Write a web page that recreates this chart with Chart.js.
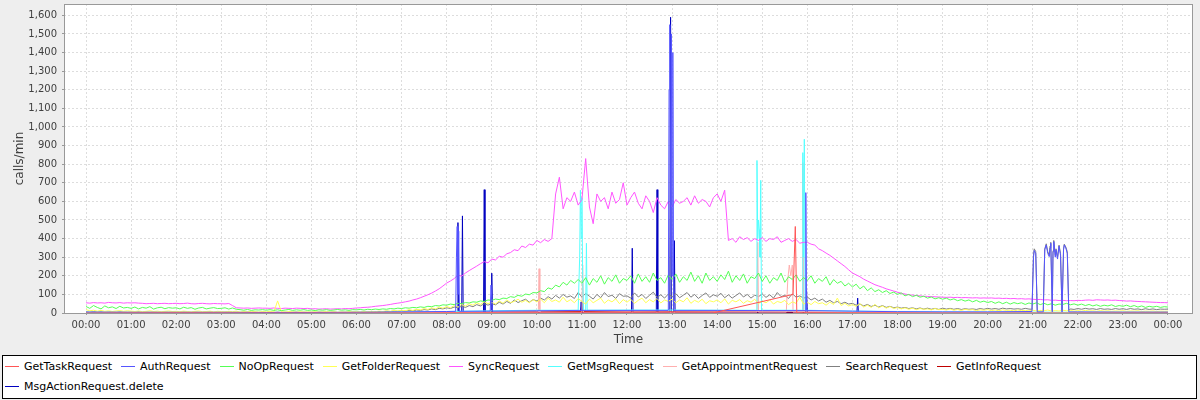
<!DOCTYPE html>
<html><head><meta charset="utf-8">
<script src="https://cdn.jsdelivr.net/npm/chart.js@4/dist/chart.umd.min.js"></script>
<style>
html,body{margin:0;padding:0;background:#eeeeee;width:1200px;height:400px;overflow:hidden;}
#wrap{position:absolute;left:0;top:0;width:1200px;height:352px;}
#legend{position:absolute;left:2px;top:355px;width:1195px;height:44px;box-sizing:border-box;border:1px solid #000;background:#fff;
 font-family:"DejaVu Sans",sans-serif;font-size:11px;color:#000;display:flex;flex-wrap:wrap;align-content:flex-start;padding-left:2px;}
.it{display:flex;align-items:center;height:20px;margin-right:9px;white-space:nowrap;}
.it i{display:inline-block;width:14px;height:1px;margin-right:5px;}
</style></head>
<body>
<div id="wrap"><canvas id="c" width="1200" height="352"></canvas></div>
<div id="legend"></div>
<script>
const seriesNames = ['GetTaskRequest','AuthRequest','NoOpRequest','GetFolderRequest','SyncRequest','GetMsgRequest','GetAppointmentRequest','SearchRequest','GetInfoRequest','MsgActionRequest.delete'];
const seriesColors = ['#ff5555','#5555ff','#55ff55','#ffff55','#ff55ff','#55ffff','#ffafaf','#808080','#c00000','#0000c0'];
const hourTicks = [0,60,120,180,240,300,360,420,480,540,600,660,720,780,840,900,960,1020,1080,1140,1200,1260,1320,1380,1440];
const hourLabels = ['00:00','01:00','02:00','03:00','04:00','05:00','06:00','07:00','08:00','09:00','10:00','11:00','12:00','13:00','14:00','15:00','16:00','17:00','18:00','19:00','20:00','21:00','22:00','23:00','00:00'];
const yTicks = [0,100,200,300,400,500,600,700,800,900,1000,1100,1200,1300,1400,1500,1600];
const stepMinutes = 5;

// values every 5 minutes, one row per hour
const syncValues = [
55,53,56,54,55,53,57,55,54,56,53,55,
54,55,53,52,50,51,52,50,51,52,50,51,
52,50,51,53,50,49,51,52,50,49,51,50,
50,49,51,40,28,27,26,27,25,26,27,26,
26,25,27,25,24,26,25,24,26,25,24,25,
22,23,21,22,23,21,22,23,22,24,23,25,
27,28,30,31,33,36,38,40,43,46,50,53,
56,60,64,70,75,82,90,98,107,118,130,145,
161,172,185,204,198,215,228,240,252,265,276,270,
290,285,305,300,318,325,340,335,360,352,370,365,
390,378,395,385,400,640,730,560,620,600,650,580,
610,830,570,480,640,600,620,560,650,590,610,700,
580,620,650,590,560,630,600,540,620,580,560,600,
570,610,590,600,620,580,630,590,610,600,570,620,
640,600,660,390,400,380,410,395,405,385,400,390,
405,385,400,395,410,380,390,400,385,395,375,380,
380,370,365,345,335,322,310,295,280,265,250,232,
215,205,195,182,172,162,152,145,138,130,124,118,
112,106,102,98,96,94,92,90,89,88,87,86,
85,84,85,83,84,82,83,82,81,82,80,81,
80,81,79,80,78,79,77,78,76,77,75,76,
74,72,73,70,71,68,69,67,68,66,67,66,
68,67,69,70,68,71,70,69,70,68,69,67,
66,64,65,63,62,61,60,59,58,57,56,56,
55];
const noOpValues = [
35,25,40,30,22,38,28,33,24,36,27,30,
25,32,22,30,26,34,21,28,31,23,29,26,
28,22,31,25,29,20,27,30,22,26,29,24,
25,28,21,27,20,18,15,19,14,17,16,18,
15,18,14,17,13,16,19,14,17,15,18,14,
16,13,17,15,18,14,16,19,15,17,14,18,
17,19,16,20,18,21,19,22,20,24,22,26,
24,28,26,30,28,33,30,36,34,40,38,44,
42,48,45,52,50,56,54,60,58,65,62,70,
68,75,72,80,78,88,84,95,90,102,98,110,
108,120,115,135,128,150,140,165,150,175,160,180,
160,190,150,185,165,200,155,190,170,205,160,185,
175,200,160,210,170,195,165,215,175,190,160,205,
180,210,165,195,175,220,170,200,160,215,175,195,
170,205,180,225,165,200,175,210,160,195,185,215,
170,200,160,190,175,215,165,195,180,205,170,190,
175,200,160,185,170,195,150,180,160,170,145,160,
140,155,130,145,120,135,115,125,110,120,105,112,
100,108,92,100,88,95,85,90,80,86,76,82,
74,80,70,76,66,72,64,70,60,68,58,64,
56,62,52,60,50,58,48,56,50,55,46,54,
48,55,45,52,44,50,42,48,46,52,44,49,
42,48,40,46,38,44,36,42,38,44,35,40,
36,42,34,40,32,38,30,36,32,36,30,34,
32];
const getFolderValues = [
18,12,15,10,14,9,12,8,11,13,9,12,
10,8,11,7,9,12,8,10,7,9,11,8,
9,7,10,8,6,9,11,7,8,10,6,9,
8,6,9,7,10,5,8,6,9,7,5,8,
6,9,5,65,7,5,8,6,4,7,5,6,
5,7,4,6,8,5,7,4,6,5,8,6,
7,5,8,6,9,7,10,8,12,9,14,11,
15,12,18,14,20,17,24,19,28,22,32,26,
35,28,40,32,45,38,50,42,55,46,60,50,
58,48,65,52,70,56,62,74,58,68,55,72,
60,75,55,80,62,70,58,85,60,72,55,78,
62,48,75,55,68,80,52,70,60,76,50,72,
58,74,52,68,80,55,72,60,78,54,70,62,
75,55,70,60,82,52,68,58,74,50,66,60,
70,55,76,48,68,60,72,52,66,58,74,50,
64,55,70,48,62,56,68,45,60,52,85,48,
58,45,62,50,55,42,58,46,80,40,52,38,
45,36,50,32,42,30,46,28,38,26,35,24,
30,22,28,20,26,18,24,20,22,17,24,18,
20,16,22,15,19,14,20,16,18,13,17,15,
18,13,16,12,17,14,15,11,16,13,14,12,
15,11,14,12,16,10,13,11,15,12,14,10,
13,10,14,11,12,9,13,10,12,9,11,10,
12,9,11,10,12,8,10,9,11,8,10,9,
10];
const searchValues = [
6,4,7,5,6,4,5,7,4,6,5,4,
5,4,6,3,5,4,6,4,3,5,4,5,
4,3,5,4,3,5,4,3,4,5,3,4,
3,4,5,3,4,3,4,5,3,4,3,4,
3,4,3,5,3,4,3,4,5,3,4,3,
4,3,5,4,3,4,5,3,4,4,3,5,
5,4,6,5,7,6,8,7,9,8,10,9,
12,10,14,12,16,14,18,16,22,18,25,22,
28,24,32,28,36,30,40,34,45,38,50,42,
50,44,58,48,62,52,70,56,66,74,58,72,
65,80,70,88,75,95,80,100,85,92,78,110,
85,105,90,75,100,82,110,88,96,78,104,90,
92,80,108,86,100,78,95,112,84,98,80,102,
88,104,82,96,110,85,100,78,94,108,84,98,
90,106,82,98,80,94,108,86,100,80,96,88,
102,84,98,80,110,88,95,78,104,85,92,80,
86,70,80,65,75,58,68,55,62,50,58,48,
52,42,48,38,46,35,42,32,40,30,36,28,
32,26,30,24,28,22,27,21,26,20,25,19,
26,21,25,20,24,19,23,20,22,19,24,20,
25,21,24,20,26,22,24,21,23,20,25,21,
24,20,23,19,25,21,22,19,24,20,23,19,
24,20,25,21,23,19,24,20,22,19,24,20,
23,19,24,20,22,18,23,19,22,18,21,20,
21];
// burst of SearchRequest between 21:00 and 21:50, [minute, value]
const searchBurst = [[1259,20],[1261,310],[1262,345],[1264,330],[1266,10],[1274,12],[1276,345],[1278,372],[1280,330],[1282,310],[1283,360],[1284,380],[1286,12],[1287,335],[1288,390],[1290,310],[1291,345],[1293,300],[1295,365],[1297,320],[1299,10],[1301,345],[1302,370],[1304,355],[1306,330],[1308,12],[1310,22]];

// sparse series, [minute, value]
const authPoints = [[0,5],[60,4],[120,4],[180,4],[240,3],[300,3],[360,4],[420,6],[480,8],[492,9],[493,300],[494,465],[495,100],[496,440],[497,9],[538,10],[539,150],[541,10],[600,12],[660,14],[720,14],[775,14],[776,1200],[777,1550],[778,300],[779,1500],[780,200],[781,1400],[782,14],[840,14],[900,13],[957,13],[958,647],[959,13],[1020,10],[1080,7],[1140,6],[1200,6],[1259,8],[1261,300],[1262,336],[1264,320],[1266,5],[1274,6],[1276,340],[1278,366],[1280,320],[1282,303],[1283,350],[1284,375],[1286,6],[1287,330],[1288,384],[1290,300],[1291,340],[1293,290],[1295,360],[1297,310],[1299,5],[1301,340],[1302,366],[1304,350],[1306,320],[1308,6],[1320,6],[1380,5],[1440,5]];
const getMsgPoints = [[0,4],[60,3],[120,3],[180,3],[240,2],[300,2],[360,3],[420,5],[480,8],[540,12],[600,15],[655,15],[657,300],[658,660],[659,400],[660,620],[661,200],[662,15],[665,15],[666,375],[667,15],[720,16],[780,16],[840,15],[892,15],[893,820],[894,400],[895,500],[896,450],[897,300],[898,713],[899,15],[953,15],[954,862],[955,300],[956,934],[957,15],[1020,10],[1080,8],[1140,6],[1200,5],[1260,5],[1320,4],[1380,4],[1440,3]];
const getAppointmentPoints = [[0,2],[120,2],[240,1],[360,1],[480,3],[600,4],[602,4],[603,238],[604,4],[660,4],[661,258],[662,4],[720,5],[840,5],[893,5],[894,380],[895,5],[932,5],[934,180],[936,258],[938,200],[940,258],[941,5],[953,5],[954,808],[955,5],[1020,4],[1200,2],[1440,2]];
const getTaskPoints = [[0,0],[120,1],[240,0],[360,0],[480,1],[600,1],[720,1],[834,0],[941,100],[944,465],[946,0],[1000,0],[1200,0],[1440,0]];
const getInfoPoints = [[0,1],[180,1],[360,1],[480,3],[540,5],[600,6],[660,8],[720,6],[780,7],[840,6],[900,5],[960,4],[1020,3],[1200,2],[1440,1]];
const msgDeletePoints = [[0,1],[120,1],[240,1],[360,1],[480,2],[494,2],[495,486],[496,2],[500,2],[501,522],[502,2],[529,2],[530,663],[531,2],[539,2],[540,214],[541,2],[600,3],[658,3],[659,60],[660,3],[726,3],[727,348],[728,3],[759,3],[760,663],[761,3],[777,3],[778,1590],[779,3],[782,3],[783,389],[784,3],[840,3],[900,3],[958,3],[959,120],[960,3],[1020,2],[1026,2],[1027,80],[1028,2],[1080,2],[1200,1],[1440,1]];

function fromRegular(vals){ return vals.map((v,i)=>({x:i*stepMinutes,y:v})); }
function fromPairs(p){ return p.map(([x,y])=>({x:x,y:y})); }
const bStart = searchBurst[0][0], bEnd = searchBurst[searchBurst.length-1][0];
const searchData = fromRegular(searchValues).filter(p=>p.x<bStart||p.x>bEnd).concat(fromPairs(searchBurst)).sort((a,b)=>a.x-b.x);

const seriesData = [
  fromPairs(getTaskPoints), fromPairs(authPoints), fromRegular(noOpValues), fromRegular(getFolderValues),
  fromRegular(syncValues), fromPairs(getMsgPoints), fromPairs(getAppointmentPoints), searchData,
  fromPairs(getInfoPoints), fromPairs(msgDeletePoints)
];

const datasets = seriesNames.map((n,i)=>({label:n,data:seriesData[i],borderColor:seriesColors[i],backgroundColor:seriesColors[i],borderWidth:1,pointRadius:0,tension:0,fill:false}));

const tickFont = {family:'"DejaVu Sans", sans-serif', size:10};
const titleFont = {family:'"DejaVu Sans", sans-serif', size:12};

const plotFrame = {
  id:'plotFrame',
  beforeDraw(chart){
    const a = chart.chartArea, c = chart.ctx;
    c.save(); c.fillStyle='#ffffff'; c.fillRect(a.left,a.top,a.right-a.left,a.bottom-a.top); c.restore();
  },
  afterDraw(chart){
    const a = chart.chartArea, c = chart.ctx;
    c.save(); c.strokeStyle='#999999'; c.lineWidth=1; c.setLineDash([]);
    c.strokeRect(a.left+0.5,a.top+0.5,a.right-a.left-1,a.bottom-a.top); c.restore();
  }
};

new Chart(document.getElementById('c'), {
  type:'line',
  data:{datasets},
  plugins:[plotFrame],
  options:{
    responsive:false, animation:false, devicePixelRatio:1,
    layout:{autoPadding:false,padding:{left:0,right:7,top:4,bottom:0}},
    plugins:{legend:{display:false},tooltip:{enabled:false}},
    scales:{
      x:{type:'linear',min:-29.3,max:1473.3,
        afterBuildTicks:s=>{s.ticks=hourTicks.map(v=>({value:v}));},
        afterFit:s=>{s.height=39;s.paddingLeft=0;s.paddingRight=0;},
        ticks:{autoSkip:false,maxRotation:0,minRotation:0,padding:4,color:'#404040',font:tickFont,
          callback:(v,i)=>hourLabels[i]},
        grid:{color:'#dddddd',lineWidth:1,drawTicks:true,tickLength:2,tickColor:'#999999',tickBorderDash:[]},
        border:{display:false,dash:[2,2]},
        title:{display:true,text:'Time',color:'#404040',font:titleFont,padding:{top:0,bottom:5}}
      },
      y:{type:'linear',min:0,max:1661,
        afterBuildTicks:s=>{s.ticks=yTicks.map(v=>({value:v}));},
        afterFit:s=>{s.width=64;s.paddingTop=0;s.paddingBottom=0;},
        ticks:{padding:5,color:'#404040',font:tickFont,callback:v=>v.toLocaleString('en-US')},
        grid:{color:'#dddddd',lineWidth:1,drawTicks:true,tickLength:2,tickColor:'#999999',tickBorderDash:[]},
        border:{display:false,dash:[2,2]},
        title:{display:true,text:'calls/min',color:'#404040',font:titleFont,padding:{top:13,bottom:0}}
      }
    }
  }
});

const lg = document.getElementById('legend');
seriesNames.forEach((n,i)=>{
  const s=document.createElement('span'); s.className='it';
  const g=document.createElement('i'); g.style.background=seriesColors[i];
  s.appendChild(g); s.appendChild(document.createTextNode(n)); lg.appendChild(s);
});
</script>
</body></html>
